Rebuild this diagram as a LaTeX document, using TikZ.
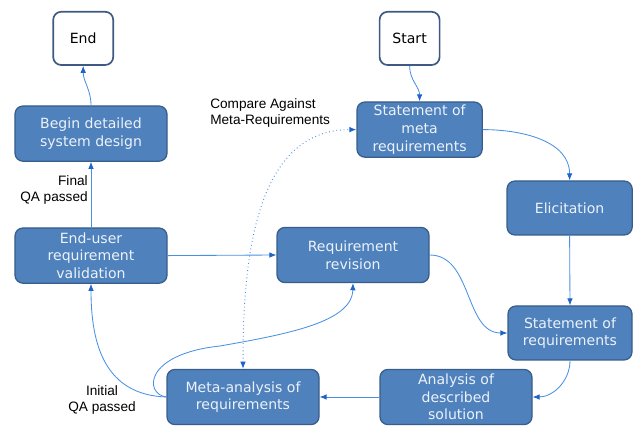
\documentclass[tikz,border=0pt]{standalone}
\usepackage{fontspec}
\setmainfont{DejaVu Sans}
\newfontfamily\labelfont{Liberation Sans}
\usetikzlibrary{arrows.meta}

\definecolor{boxfill}{RGB}{79,129,189}
\definecolor{boxline}{RGB}{56,93,138}
\definecolor{boxtext}{RGB}{236,242,249}
\definecolor{termline}{RGB}{62,90,130}
\definecolor{flowline}{RGB}{74,144,226}
\definecolor{flowtip}{RGB}{30,100,200}

\tikzset{
  stage/.style={draw=boxline, line width=0.9pt, fill=boxfill, text=boxtext,
    rounded corners=0.2cm, align=center, font=\fontsize{10}{12.6}\selectfont,
    minimum width=3.8cm, minimum height=1.38cm, inner sep=1pt},
  terminal/.style={draw=termline, line width=1.2pt, fill=white, text=black,
    rounded corners=0.2cm, font=\fontsize{10}{12}\selectfont,
    minimum width=1.5cm, minimum height=1.33cm},
  flow/.style={draw=flowline, line width=0.6pt, -{Latex[length=5pt,width=4pt,color=flowtip]}},
  compare/.style={flow, dotted, line width=0.7pt, {Latex[length=5pt,width=4pt,color=flowtip]}-{Latex[length=5pt,width=4pt,color=flowtip]}},
  note/.style={font=\labelfont\fontsize{9.7}{11}\selectfont, text=black, inner sep=0pt}
}

\begin{document}
\begin{tikzpicture}

\useasboundingbox (0,0) rectangle (15.9,10.65);

\coordinate (E) at (2.08,9.69);
\coordinate (S) at (10.24,9.69);
\coordinate (B) at (2.275,7.31);
\coordinate (M) at (10.49,7.41);
\coordinate (L) at (14.24,5.45);
\coordinate (U) at (2.275,4.26);
\coordinate (R) at (8.825,4.275);
\coordinate (Q) at (14.25,2.325);
\coordinate (A) at (11.4,0.725);
\coordinate (N) at (6.075,0.725);

\node [terminal] (end) at (E) {End};
\node [terminal] (start) at (S) {Start};
\node [stage] (begin) at (B) {Begin detailed\\system design};
\node [stage, minimum width=3.13cm] (metastmt) at (M) {Statement of\\meta\\requirements};
\node [stage, minimum width=3.13cm, minimum height=1.35cm] (elicit) at (L) {Elicitation};
\node [stage] (enduser) at (U) {End-user\\requirement\\validation};
\node [stage] (revision) at (R) {Requirement\\revision};
\node [stage, minimum width=3.1cm, minimum height=1.35cm] (stmtreq) at (Q) {Statement of\\requirements};
\node [stage] (analysis) at (A) {Analysis of\\described\\solution};
\node [stage] (metaan) at (N) {Meta-analysis of\\requirements};

\draw [flow] (start.south) to [out=-90, in=90] (metastmt.north);
\draw [flow] (metastmt.east) to [out=0, in=90] (elicit.north);
\draw [flow] (elicit.south) -- (stmtreq.north);
\draw [flow] (stmtreq.south) to [out=-90, in=0] (analysis.east);
\draw [flow] (analysis.west) -- (metaan.east);
\draw [flow] (metaan.west) to [out=178, in=-90, looseness=1.15] (enduser.south);
\draw [flow] (metaan.west) .. controls (3.6,0.8) and (3.6,1.8) .. (5.5,2.0)
  .. controls (7.2,2.3) and (8.8,2.6) .. (revision.south);
\draw [flow] (enduser.east) -- (revision.west);
\draw [flow] (revision.east) to [out=0, in=180] (stmtreq.west);
\draw [flow] (enduser.north) -- (begin.south);
\draw [flow] (begin.north) to [out=90, in=-90] (end.south);
\draw [compare] (metaan.north) to [out=90, in=180] (metastmt.west);

\node [note, align=right, anchor=east] (finalqa) at (2.2,5.9) {Final\\QA passed};
\node [note, align=center] (initialqa) at (2.55,0.65) {Initial\\QA passed};
\node [note, align=left, anchor=west] (comparelbl) at (5.25,7.83) {Compare Against\\Meta-Requirements};

\end{tikzpicture}
\end{document}
